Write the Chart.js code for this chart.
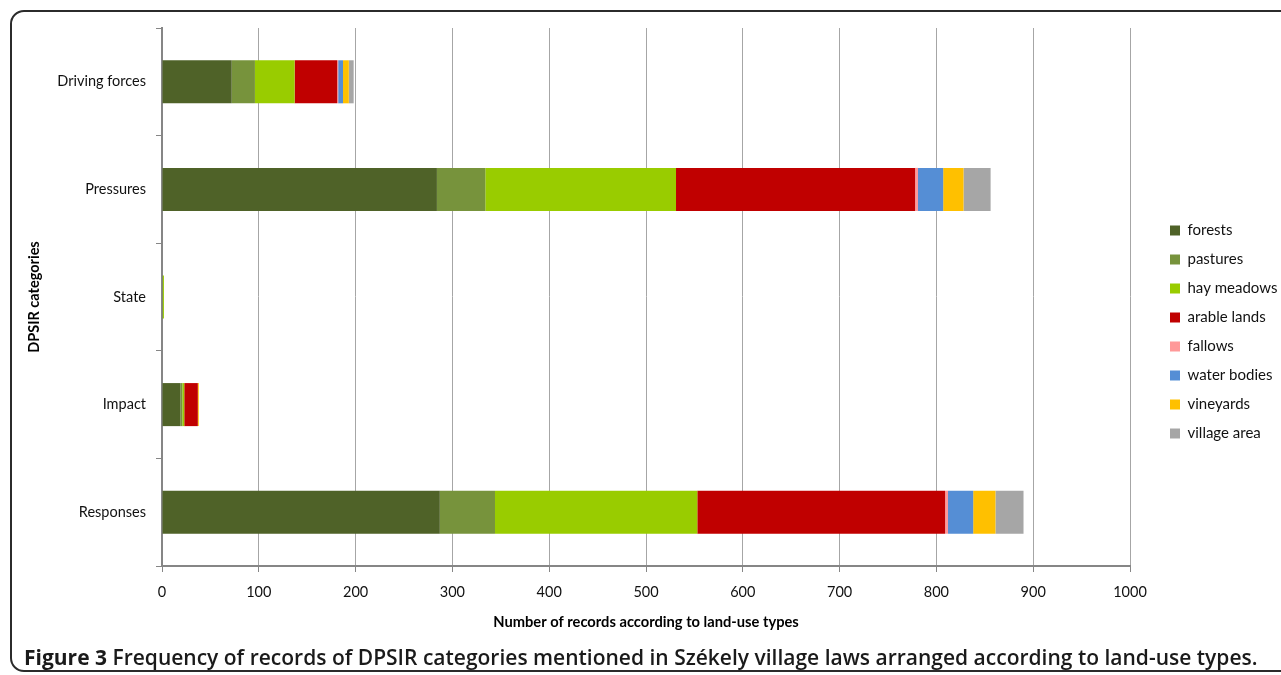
<!DOCTYPE html>
<html>
<head>
<meta charset="utf-8">
<script src="https://cdn.jsdelivr.net/npm/chart.js@4/dist/chart.umd.min.js"></script>
<style>
  html, body { margin: 0; padding: 0; background: #fff; width: 1281px; height: 675px; overflow: hidden; }
  #frame { position: absolute; left: 10px; top: 10px; width: 1300px; height: 662px; border: 2px solid #2b2b2b; border-radius: 14px; box-sizing: border-box; }
  #wrap { position: absolute; left: 0; top: 0; width: 1281px; height: 675px; }
  #caption { position: absolute; left: 24px; top: 643px; font-family: "Open Sans", sans-serif; font-size: 21px; font-weight: 600; color: #1a1a1a; white-space: nowrap; }
  #caption b { font-weight: 700; }
</style>
</head>
<body>
<div id="frame"></div>
<div id="wrap"><canvas id="c"></canvas></div>
<div id="caption"><b>Figure 3</b> Frequency of records of DPSIR categories mentioned in Székely village laws arranged according to land-use types.</div>
<script>
const categories = ['Driving forces', 'Pressures', 'State', 'Impact', 'Responses'];
const seriesNames = ['forests', 'pastures', 'hay meadows', 'arable lands', 'fallows', 'water bodies', 'vineyards', 'village area'];
const seriesColors = ['#4F6228', '#77933C', '#99CC00', '#C00000', '#FF9999', '#558ED5', '#FFC000', '#A6A6A6'];
const forests     = [72, 284, 0, 19, 287];
const pastures    = [24, 50, 1, 2, 57];
const hayMeadows  = [41, 197, 1, 2, 209];
const arableLands = [44, 247, 0, 14, 256];
const fallows     = [1, 3, 0, 0, 3];
const waterBodies = [5, 26, 0, 0, 26];
const vineyards   = [6, 21, 0, 1, 23];
const villageArea = [5, 28, 0, 0, 29];
const xMin = 0, xMax = 1000, xStep = 100;
const xTitle = 'Number of records according to land-use types';
const yTitle = 'DPSIR categories';

const seriesValues = [forests, pastures, hayMeadows, arableLands, fallows, waterBodies, vineyards, villageArea];

const FONT = 'Lato, "Open Sans", sans-serif';
const AXIS = '#868686';
const LEGEND_W = 151;

const legendPlacer = {
  id: 'legendPlacer',
  beforeLayout(chart) {
    const lg = chart.legend;
    if (lg && !lg._wrappedFit) {
      const orig = lg.fit;
      lg.fit = function () { orig.call(this); this.width = LEGEND_W; };
      lg._wrappedFit = true;
    }
  },
  afterLayout(chart) {
    const lg = chart.legend;
    if (!lg) return;
    lg.left = chart.chartArea.right + 26;
    lg.right = lg.left + LEGEND_W;
    lg.top = 209;
    lg.bottom = 667;
  }
};

new Chart(document.getElementById('c'), {
  type: 'bar',
  data: {
    labels: categories,
    datasets: seriesNames.map((name, i) => ({
      label: name,
      data: seriesValues[i],
      backgroundColor: seriesColors[i],
      borderWidth: 0,
      barPercentage: 0.4,
      categoryPercentage: 1.0
    }))
  },
  options: {
    indexAxis: 'y',
    responsive: true,
    maintainAspectRatio: false,
    animation: false,
    devicePixelRatio: 1,
    layout: { padding: { left: 20, top: 28, right: 0, bottom: 44 } },
    plugins: {
      tooltip: { enabled: false },
      legend: {
        position: 'right',
        align: 'start',
        labels: {
          boxWidth: 10,
          boxHeight: 10,
          padding: 14,
          color: '#111',
          font: { family: FONT, size: 15 }
        }
      }
    },
    scales: {
      x: {
        stacked: true,
        min: xMin,
        max: xMax,
        afterFit(s) { s.height = 65; },
        ticks: { stepSize: xStep, color: '#111', padding: 12, font: { family: FONT, size: 14.5 }, callback: v => String(v) },
        grid: { color: '#A6A6A6', lineWidth: 1, tickLength: 6, tickColor: AXIS, drawTicks: true },
        border: { color: AXIS, width: 2 },
        title: { display: true, text: xTitle, color: '#000', font: { family: FONT, size: 14.7, weight: 'bold' }, padding: { top: 0, bottom: 0 } }
      },
      y: {
        stacked: true,
        afterFit(s) { s.width = 142; },
        ticks: { color: '#111', padding: 10, font: { family: FONT, size: 14.5 } },
        grid: { drawOnChartArea: false, drawTicks: true, tickLength: 6, tickColor: AXIS, offset: true },
        border: { color: AXIS, width: 2 },
        title: { display: true, text: yTitle, color: '#000', font: { family: FONT, size: 14.5, weight: 'bold' }, padding: { top: 6, bottom: 0 } }
      }
    }
  },
  plugins: [legendPlacer]
});
</script>
</body>
</html>
